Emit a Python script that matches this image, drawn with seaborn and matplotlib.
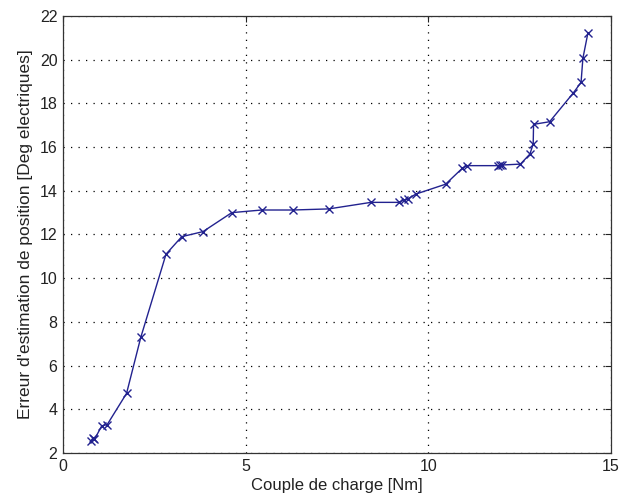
import pandas as pd
import matplotlib
matplotlib.use("Agg")
import matplotlib.pyplot as plt
import seaborn as sns

# values
couple = [0.77, 0.82, 0.86, 1.06, 1.21, 1.74, 2.13, 2.82, 3.25, 3.83, 4.62,
          5.44, 6.29, 7.27, 8.43, 9.21, 9.32, 9.43, 9.66, 10.47, 10.93, 11.06,
          11.9, 11.95, 12.02, 12.52, 12.78, 12.87, 12.88, 13.32, 13.96, 14.18,
          14.23, 14.37]
erreur = [2.55, 2.7, 2.62, 3.24, 3.3, 4.73, 7.3, 11.1, 11.9, 12.13, 13.0,
          13.12, 13.12, 13.17, 13.47, 13.47, 13.58, 13.62, 13.85, 14.3, 15.03, 15.15,
          15.15, 15.16, 15.18, 15.22, 15.68, 16.14, 17.04, 17.16, 18.46, 18.96,
          20.06, 21.24]

xticks = [0, 5, 10, 15]
yticks = [2, 4, 6, 8, 10, 12, 14, 16, 18, 20, 22]

sns.set_style("white")
plt.rcParams['font.family'] = ['Liberation Sans', 'DejaVu Sans']

data = pd.DataFrame({'x': couple, 'y': erreur})

fig = plt.figure(figsize=(6.27, 4.99), dpi=100)
ax = fig.add_axes([0.1005, 0.0922, 0.874, 0.8758])

sns.lineplot(x='x', y='y', data=data, sort=False, estimator=None, ax=ax,
             color='#22228f', marker='x', markersize=6, markeredgewidth=1,
             markeredgecolor='#22228f', linewidth=1)

ax.set_xlim(0, 15)
ax.set_ylim(2, 22)
ax.set_xticks(xticks)
ax.set_yticks(yticks)
ax.grid(True, color='black', linestyle=(0, (1, 5)), linewidth=0.9)
ax.tick_params(direction='in', top=True, right=True, length=4, width=0.8,
               labelsize=11.5, colors='#222222', pad=4)
for s in ax.spines.values():
    s.set_color('#333333')
    s.set_linewidth(0.9)

ax.set_xlabel('Couple de charge [Nm]', fontsize=12, labelpad=3, color='#222222')
ax.set_ylabel("Erreur d'estimation de position [Deg electriques]", fontsize=12.5,
              labelpad=5, color='#222222')

fig.savefig('out.png', dpi=100)
